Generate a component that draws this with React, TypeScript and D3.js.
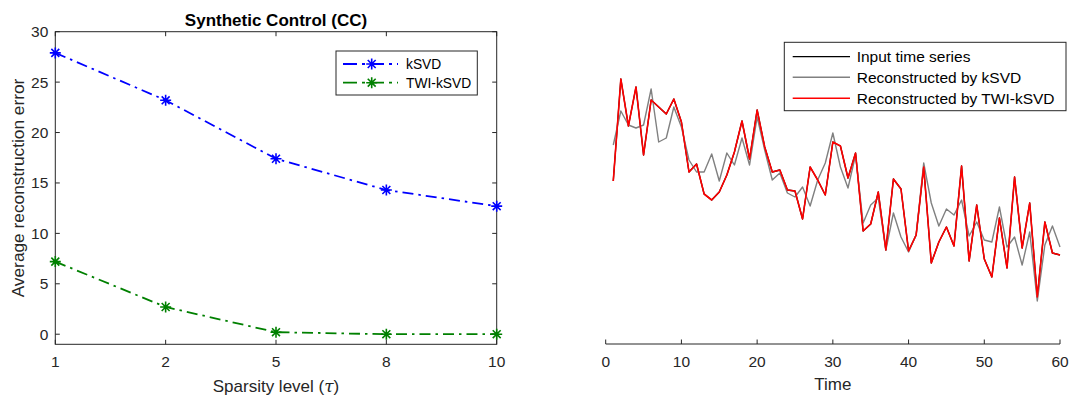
import { useEffect, useRef } from 'react';
import * as d3 from 'd3';

// Left panel: sparsity levels and average reconstruction errors
const sparsityLevels = ['1', '2', '5', '8', '10'];
const ksvdError = [27.9, 23.2, 17.4, 14.3, 12.7];
const twiKsvdError = [7.2, 2.7, 0.2, 0.0, 0.0];
const errorTicks = [0, 5, 10, 15, 20, 25, 30];

// Right panel: one time series and its two reconstructions (t = 1..60)
const timeSteps = d3.range(1, 61);
const inputSeries = [
  16.3, 26.5, 21.8, 25.7, 18.9, 24.4, 23.7, 23.0, 24.5, 22.2,
  17.2, 18.0, 15.0, 14.4, 15.2, 16.9, 19.2, 22.3, 18.5, 23.4,
  19.7, 17.2, 17.4, 15.4, 15.3, 12.5, 17.7, 16.4, 14.9, 20.2,
  19.8, 16.6, 19.1, 11.3, 12.0, 15.2, 9.4, 16.5, 15.5, 9.3,
  10.9, 17.7, 8.1, 10.2, 11.7, 9.8, 17.8, 8.3, 13.9, 8.5,
  6.7, 12.6, 7.6, 16.7, 9.6, 14.1, 4.7, 12.2, 9.1, 8.9,
];
const ksvdSeries = [
  19.9, 23.3, 21.9, 21.6, 21.9, 25.5, 20.2, 20.6, 23.7, 21.7,
  18.4, 17.2, 17.2, 19.0, 16.3, 19.1, 17.9, 20.6, 17.9, 22.7,
  19.4, 16.4, 17.1, 15.1, 14.7, 15.7, 13.8, 16.4, 18.1, 21.1,
  17.7, 15.6, 18.9, 12.1, 13.9, 14.6, 9.4, 13.1, 10.7, 9.2,
  10.9, 18.1, 14.1, 11.8, 13.5, 12.9, 14.4, 10.8, 12.2, 10.4,
  10.2, 13.7, 9.7, 10.7, 7.9, 11.2, 4.3, 9.9, 11.8, 9.7,
];
const twiKsvdSeries = [
  16.3, 26.5, 21.8, 25.7, 18.9, 24.4, 23.7, 23.0, 24.5, 22.2,
  17.2, 18.0, 15.0, 14.4, 15.2, 16.9, 19.2, 22.3, 18.5, 23.4,
  19.7, 17.2, 17.4, 15.4, 15.3, 12.5, 17.7, 16.4, 14.9, 20.2,
  19.8, 16.6, 19.1, 11.3, 12.0, 15.2, 9.4, 16.5, 15.5, 9.3,
  10.9, 17.7, 8.1, 10.2, 11.7, 9.8, 17.8, 8.3, 13.9, 8.5,
  6.7, 12.6, 7.6, 16.7, 9.6, 14.1, 4.7, 12.2, 9.1, 8.9,
];
const timeTicks = [0, 10, 20, 30, 40, 50, 60];

const FONT = '"Liberation Sans", Arial, Helvetica, sans-serif';
const AXIS = '#262626';

function asterisk(g: d3.Selection<SVGGElement, unknown, null, undefined>, cx: number, cy: number, color: string) {
  const r = 5.5;
  const d = r * 0.72;
  const p = `M${cx - r},${cy}L${cx + r},${cy}M${cx},${cy - r}L${cx},${cy + r}` +
    `M${cx - d},${cy - d}L${cx + d},${cy + d}M${cx - d},${cy + d}L${cx + d},${cy - d}`;
  g.append('path').attr('d', p).attr('stroke', color).attr('stroke-width', 1.6).attr('fill', 'none');
}

export default function App() {
  const svgRef = useRef<SVGSVGElement>(null);

  useEffect(() => {
    if (!svgRef.current) return;
    const svg = d3.select(svgRef.current);
    svg.selectAll('*').remove();

    // ---------- Left panel ----------
    const L = { left: 55.3, right: 496.7, top: 31.7, bottom: 344.3 };
    const x = d3.scalePoint<string>().domain(sparsityLevels).range([L.left, L.right]).padding(0);
    const y = d3.scaleLinear().domain([-1, 30]).range([L.bottom, L.top]);

    const left = svg.append('g');
    left.append('rect')
      .attr('x', L.left).attr('y', L.top)
      .attr('width', L.right - L.left).attr('height', L.bottom - L.top)
      .attr('fill', 'none').attr('stroke', AXIS).attr('stroke-width', 1);

    const tl = 4.5;
    const tickFont = 15.5;
    errorTicks.forEach((t) => {
      left.append('line').attr('x1', L.left).attr('x2', L.left + tl).attr('y1', y(t)).attr('y2', y(t)).attr('stroke', AXIS);
      left.append('line').attr('x1', L.right).attr('x2', L.right - tl).attr('y1', y(t)).attr('y2', y(t)).attr('stroke', AXIS);
      left.append('text')
        .attr('x', L.left - 7).attr('y', y(t)).attr('dy', '0.35em')
        .attr('text-anchor', 'end').attr('font-size', tickFont).attr('font-family', FONT).attr('fill', AXIS)
        .text(t);
    });
    sparsityLevels.forEach((s) => {
      const px = x(s)!;
      left.append('line').attr('x1', px).attr('x2', px).attr('y1', L.bottom).attr('y2', L.bottom - tl).attr('stroke', AXIS);
      left.append('line').attr('x1', px).attr('x2', px).attr('y1', L.top).attr('y2', L.top + tl).attr('stroke', AXIS);
      left.append('text')
        .attr('x', px).attr('y', 362).attr('dy', '0.35em')
        .attr('text-anchor', 'middle').attr('font-size', tickFont).attr('font-family', FONT).attr('fill', AXIS)
        .text(s);
    });

    const dash = '11,5,2.5,5';
    const lineL = d3.line<number>().x((_, i) => x(sparsityLevels[i])!).y((d) => y(d));
    [
      { data: ksvdError, color: '#0000ff' },
      { data: twiKsvdError, color: '#008000' },
    ].forEach((s) => {
      left.append('path').attr('d', lineL(s.data)!).attr('fill', 'none')
        .attr('stroke', s.color).attr('stroke-width', 1.8).attr('stroke-dasharray', dash);
      s.data.forEach((v, i) => asterisk(left, x(sparsityLevels[i])!, y(v), s.color));
    });

    // title and labels
    left.append('text')
      .attr('x', (L.left + L.right) / 2).attr('y', 26)
      .attr('text-anchor', 'middle').attr('font-size', 17).attr('font-weight', 'bold')
      .attr('font-family', FONT).attr('fill', '#000')
      .text('Synthetic Control (CC)');
    left.append('text')
      .attr('transform', `translate(18,${(L.top + L.bottom) / 2}) rotate(-90)`)
      .attr('dy', '0.35em').attr('text-anchor', 'middle')
      .attr('font-size', 17.3).attr('font-family', FONT).attr('fill', AXIS)
      .text('Average reconstruction error');
    const xl = left.append('text')
      .attr('x', (L.left + L.right) / 2).attr('y', 386).attr('dy', '0.35em')
      .attr('text-anchor', 'middle').attr('font-size', 17).attr('font-family', FONT).attr('fill', AXIS);
    xl.append('tspan').text('Sparsity level (');
    xl.append('tspan').attr('font-style', 'italic').attr('font-family', '"DejaVu Serif", "Liberation Serif", serif').text('τ');
    xl.append('tspan').text(')');

    // left legend
    const lg = left.append('g');
    lg.append('rect').attr('x', 336).attr('y', 51).attr('width', 141.3).attr('height', 44)
      .attr('fill', '#fff').attr('stroke', AXIS).attr('stroke-width', 1);
    [
      { label: 'kSVD', color: '#0000ff', cy: 64 },
      { label: 'TWI-kSVD', color: '#008000', cy: 82.7 },
    ].forEach((e) => {
      lg.append('line').attr('x1', 343).attr('x2', 398).attr('y1', e.cy).attr('y2', e.cy)
        .attr('stroke', e.color).attr('stroke-width', 1.8).attr('stroke-dasharray', '14,5,3,5');
      asterisk(lg, 371.7, e.cy, e.color);
      lg.append('text').attr('x', 406).attr('y', e.cy).attr('dy', '0.35em')
        .attr('font-size', 13.8).attr('font-family', FONT).attr('fill', '#000').text(e.label);
    });

    // ---------- Right panel ----------
    const R = { left: 605.7, right: 1060, top: 32, bottom: 344 };
    const xt = d3.scaleLinear().domain([0, 60]).range([R.left, R.right]);
    const yt = d3.scaleLinear().domain([0, 31.2]).range([R.bottom, R.top]);
    const right = svg.append('g');

    right.append('line').attr('x1', R.left).attr('x2', R.right).attr('y1', R.bottom).attr('y2', R.bottom)
      .attr('stroke', AXIS).attr('stroke-width', 1);
    timeTicks.forEach((t) => {
      right.append('line').attr('x1', xt(t)).attr('x2', xt(t)).attr('y1', R.bottom).attr('y2', R.bottom - tl).attr('stroke', AXIS);
      right.append('text')
        .attr('x', xt(t)).attr('y', 362).attr('dy', '0.35em')
        .attr('text-anchor', 'middle').attr('font-size', tickFont).attr('font-family', FONT).attr('fill', AXIS)
        .text(t);
    });
    right.append('text')
      .attr('x', (R.left + R.right) / 2).attr('y', 384).attr('dy', '0.35em')
      .attr('text-anchor', 'middle').attr('font-size', 17).attr('font-family', FONT).attr('fill', AXIS)
      .text('Time');

    const lineR = d3.line<number>().x((_, i) => xt(timeSteps[i])).y((d) => yt(d));
    const series = [
      { label: 'Input time series', data: inputSeries, color: '#000000', w: 1.3 },
      { label: 'Reconstructed by kSVD', data: ksvdSeries, color: '#808080', w: 1.4 },
      { label: 'Reconstructed by TWI-kSVD', data: twiKsvdSeries, color: '#ff0000', w: 1.6 },
    ];
    series.forEach((s) => {
      right.append('path').attr('d', lineR(s.data)!).attr('fill', 'none')
        .attr('stroke', s.color).attr('stroke-width', s.w).attr('stroke-linejoin', 'round');
    });

    const rg = right.append('g');
    rg.append('rect').attr('x', 784.3).attr('y', 42.3).attr('width', 281.7).attr('height', 68.4)
      .attr('fill', '#fff').attr('stroke', AXIS).attr('stroke-width', 1);
    const rows = [56.7, 77.3, 98.3];
    series.forEach((s, i) => {
      rg.append('line').attr('x1', 792.7).attr('x2', 850).attr('y1', rows[i]).attr('y2', rows[i])
        .attr('stroke', s.color).attr('stroke-width', s.w);
      rg.append('text').attr('x', 856.7).attr('y', rows[i]).attr('dy', '0.35em')
        .attr('font-size', 15.5).attr('font-family', FONT).attr('fill', '#000').text(s.label);
    });
  }, []);

  return (
    <svg
      ref={svgRef}
      width={1070}
      height={395}
      style={{ position: 'absolute', left: 0, top: 0, background: '#fff' }}
    />
  );
}
